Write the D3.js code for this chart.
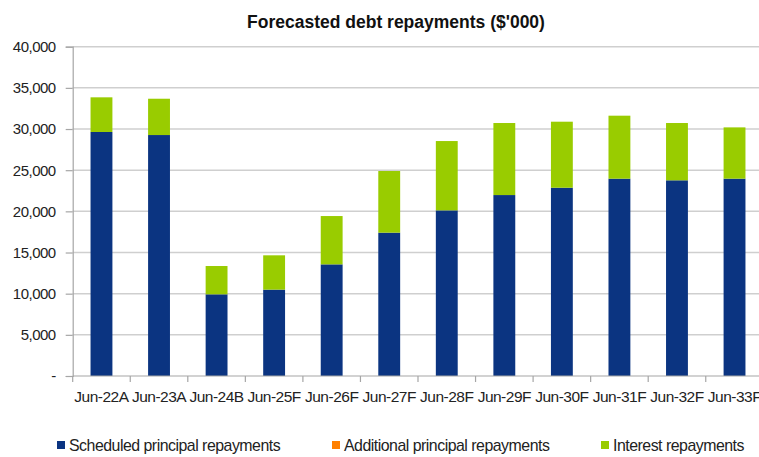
<!DOCTYPE html>
<html>
<head>
<meta charset="utf-8">
<script src="https://cdn.jsdelivr.net/npm/d3@7"></script>
<style>
  html, body { margin: 0; padding: 0; background: #fff; }
  svg { display: block; font-family: "Liberation Sans", Arial, sans-serif; }
</style>
</head>
<body>
<svg id="chart" width="759" height="457"></svg>
<script>
// Forecast periods (A = actual, B = budget, F = forecast)
const categories = ["Jun-22A", "Jun-23A", "Jun-24B", "Jun-25F", "Jun-26F", "Jun-27F",
                    "Jun-28F", "Jun-29F", "Jun-30F", "Jun-31F", "Jun-32F", "Jun-33F"];

// Repayment components, $'000
const scheduledPrincipal = [29640, 29270, 9920, 10490, 13560, 17410, 20120, 21980, 22870, 23970, 23770, 23970];
const additionalPrincipal = [0, 0, 0, 0, 0, 0, 0, 0, 0, 0, 0, 0];
const interest = [4210, 4410, 3440, 4170, 5870, 7490, 8420, 8750, 8020, 7650, 6960, 6230];

const yTicks = [0, 5000, 10000, 15000, 20000, 25000, 30000, 35000, 40000];

const seriesNames = ["Scheduled principal repayments", "Additional principal repayments", "Interest repayments"];
const seriesColors = ["#0b3481", "#ff8000", "#99cc00"];

const rows = categories.map((c, i) => ({
  cat: c,
  s0: scheduledPrincipal[i],
  s1: additionalPrincipal[i],
  s2: interest[i]
}));

const svg = d3.select("#chart");
const margin = { left: 72.7, top: 46.7, bottom: 376 };
const bandW = 57.55;

const x = d3.scaleBand()
  .domain(categories)
  .range([margin.left, margin.left + bandW * categories.length])
  .paddingInner(0.62)
  .paddingOuter(0.31);

const y = d3.scaleLinear().domain([0, 40000]).range([margin.bottom, margin.top]);

// Horizontal gridlines
svg.append("g")
  .selectAll("line")
  .data(yTicks.filter(d => d > 0))
  .join("line")
  .attr("x1", margin.left)
  .attr("x2", margin.left + bandW * categories.length)
  .attr("y1", d => y(d))
  .attr("y2", d => y(d))
  .attr("stroke", "#cfcfcf")
  .attr("stroke-width", 1.5);

// Stacked bars
const stack = d3.stack().keys(["s0", "s1", "s2"]);
const layers = stack(rows);

svg.append("g")
  .selectAll("g")
  .data(layers)
  .join("g")
  .attr("fill", (d, i) => seriesColors[i])
  .selectAll("rect")
  .data(d => d)
  .join("rect")
  .attr("x", d => x(d.data.cat))
  .attr("width", x.bandwidth())
  .attr("y", d => y(d[1]))
  .attr("height", d => Math.max(0, y(d[0]) - y(d[1])));

// Y axis
const yAxis = d3.axisLeft(y)
  .tickValues(yTicks)
  .tickSize(7)
  .tickPadding(10)
  .tickFormat(d => d === 0 ? "-" : d3.format(",")(d));

const yg = svg.append("g")
  .attr("transform", `translate(${margin.left},0)`)
  .call(yAxis);
yg.select(".domain").attr("stroke", "#a6a6a6").attr("stroke-width", 1.2);
yg.selectAll(".tick line").attr("stroke", "#a6a6a6").attr("stroke-width", 1.2);
yg.selectAll("text")
  .attr("font-size", 15)
  .attr("fill", "#222")
  .attr("font-family", "'Liberation Sans', Arial, sans-serif")
  .attr("letter-spacing", -0.5);

// X axis with ticks at band boundaries
const xg = svg.append("g").attr("transform", `translate(0,${margin.bottom})`);
xg.append("line")
  .attr("x1", margin.left)
  .attr("x2", margin.left + bandW * categories.length)
  .attr("stroke", "#a6a6a6")
  .attr("stroke-width", 1.2);
xg.selectAll(".btick")
  .data(d3.range(categories.length))
  .join("line")
  .attr("class", "btick")
  .attr("x1", i => margin.left + i * bandW)
  .attr("x2", i => margin.left + i * bandW)
  .attr("y1", 0)
  .attr("y2", 6)
  .attr("stroke", "#a6a6a6")
  .attr("stroke-width", 1.2);
xg.selectAll(".xlab")
  .data(categories)
  .join("text")
  .attr("class", "xlab")
  .attr("x", d => x(d) + x.bandwidth() / 2)
  .attr("y", 25.5)
  .attr("text-anchor", "middle")
  .attr("font-size", 15.5)
  .attr("letter-spacing", -0.5)
  .attr("fill", "#222")
  .text(d => d);

// Title
svg.append("text")
  .attr("x", 396)
  .attr("y", 28)
  .attr("text-anchor", "middle")
  .attr("font-size", 17.5)
  .attr("font-weight", "bold")
  .attr("fill", "#111")
  .text("Forecasted debt repayments ($'000)");

// Legend
const legendX = [57, 332, 601];
const lg = svg.append("g")
  .selectAll("g")
  .data(seriesNames)
  .join("g")
  .attr("transform", (d, i) => `translate(${legendX[i]},441)`);
lg.append("rect")
  .attr("width", 8)
  .attr("height", 8)
  .attr("fill", (d, i) => seriesColors[i]);
lg.append("text")
  .attr("x", 12)
  .attr("y", 9.5)
  .attr("font-size", 15.9)
  .attr("letter-spacing", -0.5)
  .attr("fill", "#222")
  .text(d => d);
</script>
</body>
</html>
